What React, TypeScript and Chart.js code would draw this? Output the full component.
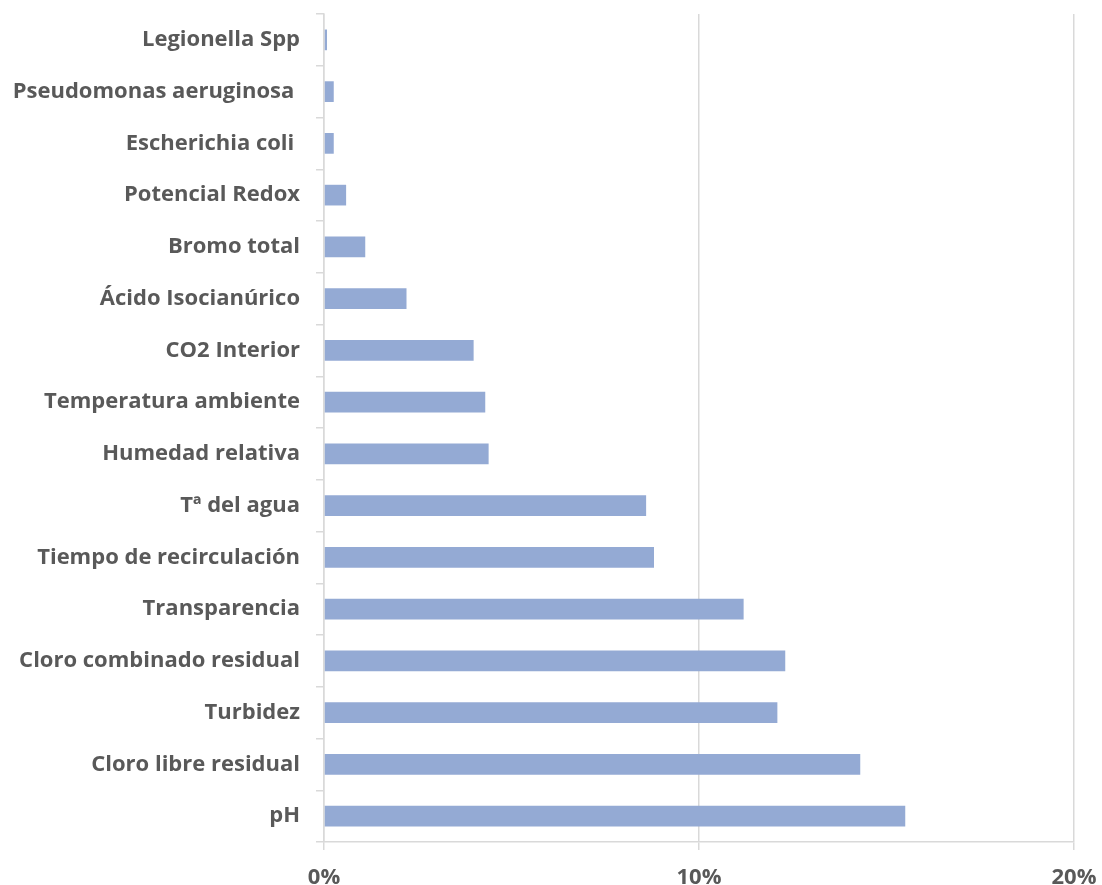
import React, { useEffect, useRef } from "react";
import { Chart, registerables } from "chart.js";

Chart.register(...registerables);

const categories = [
  "Legionella Spp",
  "Pseudomonas aeruginosa ",
  "Escherichia coli ",
  "Potencial Redox",
  "Bromo total",
  "Ácido Isocianúrico",
  "CO2 Interior",
  "Temperatura ambiente",
  "Humedad relativa",
  "Tª del agua",
  "Tiempo de recirculación",
  "Transparencia",
  "Cloro combinado residual",
  "Turbidez",
  "Cloro libre residual",
  "pH",
];

const values = [
  0.08, 0.26, 0.26, 0.59, 1.1, 2.2, 3.99, 4.3, 4.39, 8.59, 8.8, 11.19, 12.3, 12.09, 14.3, 15.5,
];

const xTicks = [0, 10, 20];

const FONT = "'Open Sans', 'Liberation Sans', sans-serif";
const TEXT = "#595959";
const GRID = "#d9d9d9";

export default function App() {
  const ref = useRef<HTMLCanvasElement | null>(null);

  useEffect(() => {
    document.body.style.margin = "0";
    const ctx = ref.current;
    if (!ctx) return;
    const chart = new Chart(ctx, {
      type: "bar",
      data: {
        labels: categories,
        datasets: [
          {
            data: values,
            backgroundColor: "#94aad4",
            borderWidth: 0,
            barPercentage: 0.4,
            categoryPercentage: 1,
          },
        ],
      },
      options: {
        indexAxis: "y",
        animation: false,
        responsive: false,
        maintainAspectRatio: false,
        layout: { padding: { top: 14, right: 28, left: 0, bottom: 0 } },
        plugins: {
          legend: { display: false },
          tooltip: { enabled: false },
        },
        scales: {
          x: {
            min: 0,
            max: 20,
            afterBuildTicks: (axis: any) => {
              axis.ticks = xTicks.map((v) => ({ value: v }));
            },
            afterFit: (axis: any) => {
              axis.height = 43;
              axis.paddingLeft = 0;
              axis.paddingRight = 0;
            },
            ticks: {
              callback: (v: any) => v + "%",
              color: TEXT,
              font: { family: FONT, size: 22, weight: "bold" },
              padding: 15,
              maxRotation: 0,
            },
            grid: {
              color: GRID,
              lineWidth: 1.5,
              tickLength: 8,
              drawTicks: true,
            },
            border: { display: true, color: GRID, width: 1.5 },
          },
          y: {
            afterFit: (axis: any) => {
              axis.width = 324;
              axis.paddingTop = 0;
              axis.paddingBottom = 0;
            },
            ticks: {
              color: TEXT,
              font: { family: FONT, size: 22, weight: "bold" },
              padding: 16,
              autoSkip: false,
            },
            grid: {
              color: GRID,
              lineWidth: 1.5,
              drawOnChartArea: false,
              tickLength: 8,
              offset: true,
            },
            border: { display: true, color: GRID, width: 1.5 },
          },
        },
      },
    });
    return () => chart.destroy();
  }, []);

  return (
    <div style={{ width: 1102, height: 885, position: "relative" }}>
      <canvas ref={ref} width={1102} height={885} style={{ display: "block" }} />
    </div>
  );
}
